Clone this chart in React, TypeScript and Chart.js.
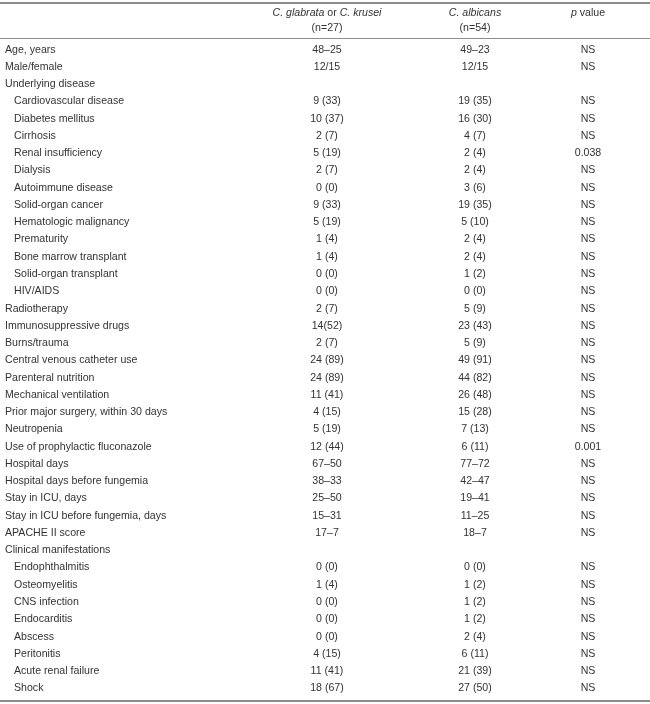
import React, { useEffect, useRef } from "react";
import { Chart, registerables } from "chart.js";

Chart.register(...registerables);

// ---- table data ----
const rowLabels = [
  "Age, years", "Male/female", "Underlying disease", "Cardiovascular disease", "Diabetes mellitus",
  "Cirrhosis", "Renal insufficiency", "Dialysis", "Autoimmune disease", "Solid-organ cancer",
  "Hematologic malignancy", "Prematurity", "Bone marrow transplant", "Solid-organ transplant", "HIV/AIDS",
  "Radiotherapy", "Immunosuppressive drugs", "Burns/trauma", "Central venous catheter use", "Parenteral nutrition",
  "Mechanical ventilation", "Prior major surgery, within 30 days", "Neutropenia", "Use of prophylactic fluconazole", "Hospital days",
  "Hospital days before fungemia", "Stay in ICU, days", "Stay in ICU before fungemia, days", "APACHE II score", "Clinical manifestations",
  "Endophthalmitis", "Osteomyelitis", "CNS infection", "Endocarditis", "Abscess",
  "Peritonitis", "Acute renal failure", "Shock",
];
const indented = [
  false, false, false, true, true, true, true, true, true, true,
  true, true, true, true, true, false, false, false, false, false,
  false, false, false, false, false, false, false, false, false, false,
  true, true, true, true, true, true, true, true,
];
const glabrataValues = [
  "48–25", "12/15", "", "9 (33)", "10 (37)", "2 (7)", "5 (19)", "2 (7)", "0 (0)", "9 (33)",
  "5 (19)", "1 (4)", "1 (4)", "0 (0)", "0 (0)", "2 (7)", "14(52)", "2 (7)", "24 (89)", "24 (89)",
  "11 (41)", "4 (15)", "5 (19)", "12 (44)", "67–50", "38–33", "25–50", "15–31", "17–7", "",
  "0 (0)", "1 (4)", "0 (0)", "0 (0)", "0 (0)", "4 (15)", "11 (41)", "18 (67)",
];
const albicansValues = [
  "49–23", "12/15", "", "19 (35)", "16 (30)", "4 (7)", "2 (4)", "2 (4)", "3 (6)", "19 (35)",
  "5 (10)", "2 (4)", "2 (4)", "1 (2)", "0 (0)", "5 (9)", "23 (43)", "5 (9)", "49 (91)", "44 (82)",
  "26 (48)", "15 (28)", "7 (13)", "6 (11)", "77–72", "42–47", "19–41", "11–25", "18–7", "",
  "0 (0)", "1 (2)", "1 (2)", "1 (2)", "2 (4)", "6 (11)", "21 (39)", "27 (50)",
];
const pValues = [
  "NS", "NS", "", "NS", "NS", "NS", "0.038", "NS", "NS", "NS",
  "NS", "NS", "NS", "NS", "NS", "NS", "NS", "NS", "NS", "NS",
  "NS", "NS", "NS", "0.001", "NS", "NS", "NS", "NS", "NS", "",
  "NS", "NS", "NS", "NS", "NS", "NS", "NS", "NS",
];
// header: segments [text, italic]
const headerCol1 = [[["C. glabrata", true], [" or ", false], ["C. krusei", true]], [["(n=27)", false]]];
const headerCol2 = [[["C. albicans", true]], [["(n=54)", false]]];
const headerCol3 = [[["p", true], [" value", false]]];

const FONT_FAMILY = '"Liberation Sans", Arial, Helvetica, sans-serif';
const FONT_SIZE = 10.6;
const TEXT_COLOR = "#333333";
const RULE_COLOR = "#8c8c8c";

const tablePlugin = {
  id: "tablePlugin",
  afterDraw(chart: any) {
    const ctx = chart.ctx as CanvasRenderingContext2D;
    const xs = chart.scales.x;
    const ys = chart.scales.y;
    const area = chart.chartArea;
    const W = chart.width;
    const H = chart.height;
    const colX = [xs.getPixelForValue(327), xs.getPixelForValue(475), xs.getPixelForValue(588)];
    const labelX = xs.getPixelForValue(5);
    const indentX = xs.getPixelForValue(14);
    const normal = `${FONT_SIZE}px ${FONT_FAMILY}`;
    const italic = `italic ${FONT_SIZE}px ${FONT_FAMILY}`;

    ctx.save();
    // rules
    ctx.strokeStyle = RULE_COLOR;
    ctx.lineWidth = 2;
    ctx.beginPath();
    ctx.moveTo(0, 3);
    ctx.lineTo(W, 3);
    ctx.stroke();
    ctx.beginPath();
    ctx.moveTo(0, H - 3);
    ctx.lineTo(W, H - 3);
    ctx.stroke();
    ctx.lineWidth = 1;
    ctx.beginPath();
    ctx.moveTo(0, area.top - 2.5);
    ctx.lineTo(W, area.top - 2.5);
    ctx.stroke();

    ctx.fillStyle = TEXT_COLOR;
    ctx.textBaseline = "middle";

    const drawSegs = (segs: any[], cx: number, cy: number) => {
      let total = 0;
      for (const [t, it] of segs) {
        ctx.font = it ? italic : normal;
        total += ctx.measureText(t).width;
      }
      let x = cx - total / 2;
      ctx.textAlign = "left";
      for (const [t, it] of segs) {
        ctx.font = it ? italic : normal;
        ctx.fillText(t, x, cy);
        x += ctx.measureText(t).width;
      }
    };
    const headerY = [13, 28];
    [headerCol1, headerCol2, headerCol3].forEach((lines, ci) => {
      lines.forEach((segs, li) => drawSegs(segs as any[], colX[ci], headerY[li]));
    });

    rowLabels.forEach((label, i) => {
      const y = ys.getPixelForValue(i);
      ctx.font = normal;
      ctx.textAlign = "left";
      ctx.fillText(label, indented[i] ? indentX : labelX, y);
      ctx.textAlign = "center";
      ctx.fillText(glabrataValues[i], colX[0], y);
      ctx.fillText(albicansValues[i], colX[1], y);
      ctx.fillText(pValues[i], colX[2], y);
    });
    ctx.restore();
  },
};

export default function App() {
  const ref = useRef<HTMLCanvasElement>(null);
  useEffect(() => {
    if (!ref.current) return;
    const chart = new Chart(ref.current, {
      type: "scatter",
      data: { labels: rowLabels, datasets: [] },
      options: {
        animation: false,
        responsive: false,
        devicePixelRatio: 1,
        layout: { padding: { top: 41, bottom: 7, left: 0, right: 0 } },
        plugins: { legend: { display: false }, tooltip: { enabled: false } },
        scales: {
          x: { type: "linear", min: 0, max: 650, display: false },
          y: { type: "category", labels: rowLabels, offset: true, display: false },
        },
      },
      plugins: [tablePlugin],
    });
    return () => chart.destroy();
  }, []);
  return (
    <div style={{ position: "fixed", left: 0, top: 0, width: 650, height: 704, background: "#fff" }}>
      <canvas ref={ref} width={650} height={704} />
    </div>
  );
}
